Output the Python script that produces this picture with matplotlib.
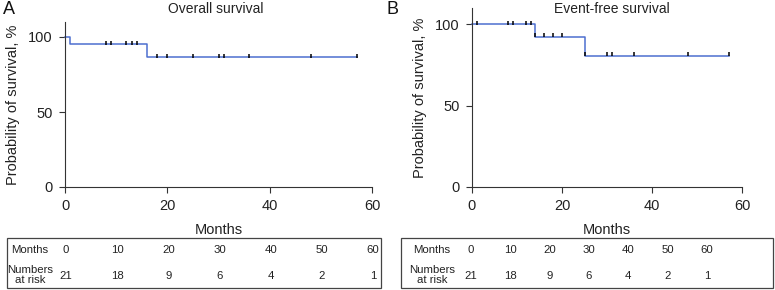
import matplotlib
matplotlib.use("Agg")
import matplotlib.pyplot as plt
import matplotlib.transforms as mtransforms
from matplotlib.patches import Rectangle

plt.rcParams['font.family'] = ['Liberation Sans', 'DejaVu Sans']

# Overall survival (panel A)
os_time = [0, 1, 16, 57]
os_surv = [100, 95.2, 86.5, 86.5]
os_cens_t = [8, 9, 12, 13, 14, 18, 20, 25, 30, 31, 36, 48, 57]
os_cens_s = [95.2, 95.2, 95.2, 95.2, 95.2, 86.5, 86.5, 86.5, 86.5, 86.5, 86.5, 86.5, 86.5]

# Event-free survival (panel B)
efs_time = [0, 14, 25, 57]
efs_surv = [100, 92.4, 80.7, 80.7]
efs_cens_t = [1, 8, 9, 12, 13, 14, 16, 18, 20, 25, 30, 31, 36, 48, 57]
efs_cens_s = [100, 100, 100, 100, 100, 92.4, 92.4, 92.4, 92.4,
              80.7, 80.7, 80.7, 80.7, 80.7, 80.7]

risk_months = ['0', '10', '20', '30', '40', '50', '60']
risk_numbers = ['21', '18', '9', '6', '4', '2', '1']

W, H = 775, 290
fig = plt.figure(figsize=(W / 100, H / 100), dpi=100)

line_col = '#4d6fcf'
axis_col = '#333333'
txt_col = '#222222'


def px_axes(x0, y0, x1, y1):
    return fig.add_axes([x0 / W, 1 - y1 / H, (x1 - x0) / W, (y1 - y0) / H])


def km_panel(ax, t, s, ct, cs):
    ax.plot(t, s, drawstyle='steps-post', color=line_col, lw=1.1, clip_on=False)
    # censor ticks sit slightly above the curve
    up = mtransforms.offset_copy(ax.transData, fig=fig, y=1.5, units='dots')
    ax.plot(ct, cs, ls='none', marker='|', color='black', ms=3.5, mew=1.1,
            clip_on=False, transform=up)
    ax.set_xlim(0, 60)
    ax.set_ylim(0, 110)
    ax.set_xticks([0, 20, 40, 60])
    ax.set_yticks([0, 50, 100])
    for sp in ['top', 'right']:
        ax.spines[sp].set_visible(False)
    for sp in ['left', 'bottom']:
        ax.spines[sp].set_color(axis_col)
        ax.spines[sp].set_linewidth(0.8)
    ax.tick_params(direction='out', length=4, width=0.8, color=axis_col,
                   labelsize=10.5, labelcolor=txt_col, pad=5)
    ax.set_xlabel('Months', fontsize=10.5, color=txt_col, labelpad=7)
    ax.set_ylabel('Probability of survival, %', fontsize=10.5, color=txt_col, labelpad=6)


def risk_table(x0, x1, label_x, val_x0, val_step):
    y0, y1 = 238, 288
    fig.patches.append(Rectangle((x0 / W, 1 - y1 / H), (x1 - x0) / W, (y1 - y0) / H,
                                 transform=fig.transFigure, fill=False,
                                 ec='#444444', lw=0.9))
    fig.text(label_x / W, 1 - 250 / H, 'Months', ha='center', va='center',
             fontsize=8.2, color=txt_col)
    fig.text(label_x / W, 1 - 275 / H, 'Numbers\nat risk', ha='center', va='center',
             fontsize=8.2, color=txt_col, linespacing=1.0)
    for i, (m, n) in enumerate(zip(risk_months, risk_numbers)):
        xv = (val_x0 + i * val_step) / W
        fig.text(xv, 1 - 250 / H, m, ha='center', va='center', fontsize=8.2, color=txt_col)
        fig.text(xv, 1 - 276 / H, n, ha='center', va='center', fontsize=8.2, color=txt_col)


axA = px_axes(65, 22, 372, 187)
km_panel(axA, os_time, os_surv, os_cens_t, os_cens_s)
axB = px_axes(472, 8, 742, 187)
km_panel(axB, efs_time, efs_surv, efs_cens_t, efs_cens_s)

fig.text(216 / W, 1 - 9 / H, 'Overall survival', fontsize=10, ha='center', va='center', color=txt_col)
fig.text(612 / W, 1 - 9 / H, 'Event-free survival', fontsize=10, ha='center', va='center', color=txt_col)

fig.text(3 / W, 1 - 10 / H, 'A', fontsize=13, va='center', ha='left', color='#111111')
fig.text(386 / W, 1 - 10 / H, 'B', fontsize=13, va='center', ha='left', color='#111111')

risk_table(7, 381, 30, 66, 51.2)
risk_table(401, 773, 432, 471, 39.3)

fig.savefig('out.png', dpi=100)
